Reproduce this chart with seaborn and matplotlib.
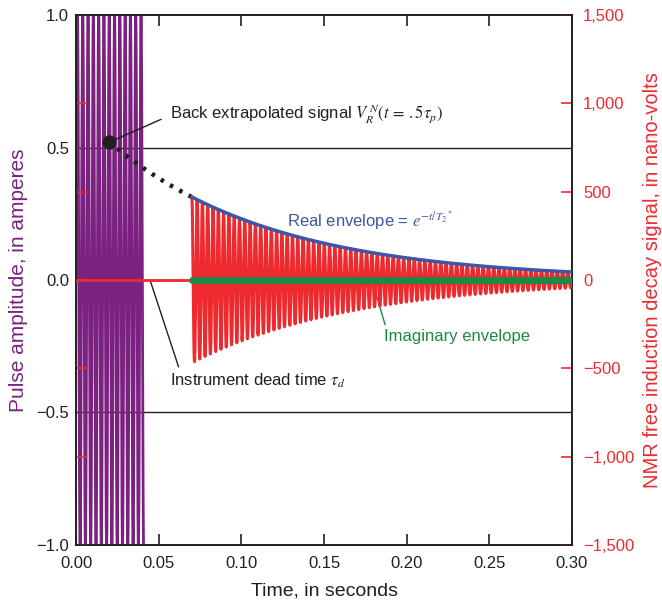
import numpy as np
import pandas as pd
import matplotlib
matplotlib.use("Agg")
import matplotlib.pyplot as plt
import seaborn as sns

# ---- values ----
pulse_start, pulse_end = 0.0, 0.0409        # s
pulse_amplitude = 1.02                      # A (clipped at the axis limits)
pulse_freq = 312.0                          # Hz (apparent)
dead_time_end = 0.07                        # s
fid_amp0 = 960.0                            # nV at t=0 (back extrapolated)
t2_star = 0.098                             # s
fid_freq = 312.0                            # Hz (apparent)
t_end = 0.30
extrap_point = (0.02, 0.52)                 # (s, A)

x_ticks = [0.00, 0.05, 0.10, 0.15, 0.20, 0.25, 0.30]
left_ticks = [-1.0, -0.5, 0.0, 0.5, 1.0]
right_ticks = [-1500, -1000, -500, 0, 500, 1000, 1500]

PURPLE = "#7B2180"
RED = "#EE2A2E"
BLUE = "#3F55A5"
GREEN = "#1B8A43"
INK = "#231F20"

sns.set_style("white")
plt.rcParams["font.family"] = ["Liberation Sans", "DejaVu Sans"]
plt.rcParams["mathtext.fontset"] = "stix"

fig = plt.figure(figsize=(6.62, 6.06), dpi=100)
ax = fig.add_axes([0.115, 0.101, 0.749, 0.874])
ax2 = ax.twinx()

# pulse
tp = np.linspace(pulse_start, pulse_end, 4000)
pulse = pd.DataFrame({"t": tp, "a": pulse_amplitude * np.sin(2 * np.pi * pulse_freq * tp)})
sns.lineplot(data=pulse, x="t", y="a", ax=ax, color=PURPLE, lw=2.0, sort=False,
             estimator=None, zorder=2)

# gridlines
for yv in [0.5, 0.0, -0.5]:
    ax.axhline(yv, color=INK, lw=1.0, zorder=1)

# FID on right axis
tf = np.linspace(dead_time_end, t_end, 20000)
env = fid_amp0 * np.exp(-tf / t2_star)
fid = pd.DataFrame({"t": tf, "v": env * np.cos(2 * np.pi * fid_freq * (tf - dead_time_end))})
sns.lineplot(data=fid, x="t", y="v", ax=ax2, color=RED, lw=2.2, sort=False,
             estimator=None, zorder=3)
envdf = pd.DataFrame({"t": tf, "v": env})
sns.lineplot(data=envdf, x="t", y="v", ax=ax2, color=BLUE, lw=2.5, estimator=None, zorder=4)
# red baseline during pulse and dead time
sns.lineplot(x=[0.0, dead_time_end], y=[0, 0], ax=ax2, color=RED, lw=2.0, zorder=5)
# imaginary envelope
sns.lineplot(x=[dead_time_end, t_end], y=[0, 0], ax=ax2, color=GREEN, lw=5, zorder=5)

# back extrapolation dotted
te = np.linspace(extrap_point[0], dead_time_end, 50)
ext = fid_amp0 * np.exp(-te / t2_star) / 1500.0
ax.plot(te, ext, color=INK, lw=3.2, ls=(0, (0.8, 1.6)), zorder=6)
ax.scatter([extrap_point[0]], [extrap_point[1]], s=85, color=INK, zorder=7)

ax.set_xlim(0, 0.30)
ax.set_ylim(-1, 1)
ax2.set_ylim(-1500, 1500)
ax.set_xticks(x_ticks)
ax.set_xticklabels([f"{v:.2f}" for v in x_ticks])
ax.set_yticks(left_ticks)
ax.set_yticklabels([f"{v:.1f}".replace("-", "\u2212") for v in left_ticks])
ax2.set_yticks(right_ticks)
ax2.set_yticklabels([f"{v:,}".replace("-", "\u2212") for v in right_ticks])

ax.tick_params(axis="x", which="both", direction="in", length=8, width=1.2,
               top=True, bottom=True, labelsize=12, colors=INK, pad=8)
ax.tick_params(axis="y", direction="in", length=0, labelsize=12, colors=INK, pad=5)
ax2.yaxis.set_ticks_position("both")
ax2.tick_params(axis="y", direction="in", length=8, width=1.2, colors=RED,
                labelsize=12, pad=8, labelleft=False, labelright=True)
for s in ax.spines.values():
    s.set_color(INK); s.set_linewidth(1.2)
for s in ax2.spines.values():
    s.set_color(INK); s.set_linewidth(1.2)

ax.set_xlabel("Time, in seconds", fontsize=14, color=INK, labelpad=8)
ax.set_ylabel("Pulse amplitude, in amperes", fontsize=15, color=PURPLE, labelpad=6)
ax2.set_ylabel("NMR free induction decay signal, in nano-volts", fontsize=14.5, color=RED,
               labelpad=6)

# annotations
ax.annotate(r"Back extrapolated signal $V_R^{\,N}(t\,=\,.5\tau_p)$",
            xy=extrap_point, xytext=(0.0565, 0.625), textcoords="data",
            fontsize=12, color=INK, va="center", ha="left",
            arrowprops=dict(arrowstyle="-", color=INK, lw=1.0, relpos=(0, 0.45),
                            shrinkA=4, shrinkB=4))
ax.text(0.1275, 0.226, r"Real envelope = $e^{-t/T_2{}^*}$", fontsize=12, color=BLUE,
        va="center", ha="left")
ax.annotate("Imaginary envelope", xy=(0.179, 0.0), xytext=(0.186, -0.215),
            fontsize=12, color=GREEN, va="center", ha="left",
            arrowprops=dict(arrowstyle="-", color=GREEN, lw=1.0, relpos=(0.02, 1.0),
                            shrinkA=1, shrinkB=0))
ax.annotate(r"Instrument dead time $\tau_d$", xy=(0.0447, 0.0), xytext=(0.0565, -0.38),
            fontsize=12, color=INK, va="center", ha="left",
            arrowprops=dict(arrowstyle="-", color=INK, lw=1.0, relpos=(0.06, 1.0),
                            shrinkA=1, shrinkB=0))

fig.savefig("out.png", dpi=100)
